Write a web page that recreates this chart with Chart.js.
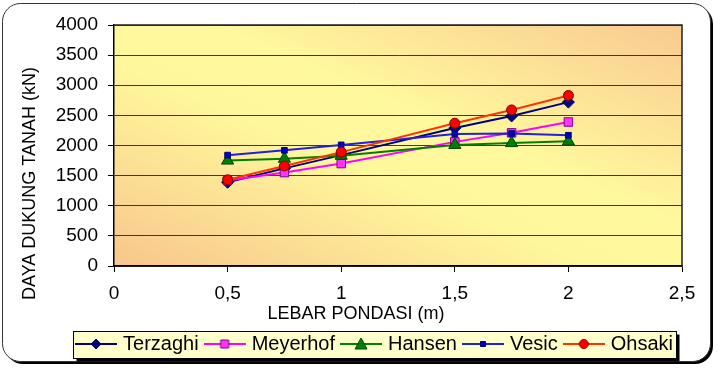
<!DOCTYPE html>
<html><head><meta charset="utf-8">
<script src="https://cdn.jsdelivr.net/npm/chart.js@4.4.0/dist/chart.umd.min.js"></script>
<style>html,body{margin:0;padding:0;background:#fff;}#wrap{width:724px;height:368px;}</style>
</head><body><div id="wrap"><canvas id="c" width="724" height="368"></canvas></div>
<script>
// ---- data ----
const xValues = [0.5, 0.75, 1, 1.5, 1.75, 2];
const terzaghi = [1390, 1620, 1840, 2290, 2490, 2720];
const meyerhof = [1420, 1550, 1700, 2060, 2210, 2390];
const hansen   = [1750, 1780, 1830, 2010, 2040, 2070];
const vesic    = [1840, 1920, 2010, 2190, 2200, 2170];
const ohsaki   = [1430, 1660, 1890, 2370, 2590, 2830];
const seriesNames = ['Terzaghi', 'Meyerhof', 'Hansen', 'Vesic', 'Ohsaki'];
const xTickLabels = ['0', '0,5', '1', '1,5', '2', '2,5'];
const yTickLabels = ['0', '500', '1000', '1500', '2000', '2500', '3000', '3500', '4000'];
const yTitle = 'DAYA DUKUNG TANAH (kN)';
const xTitle = 'LEBAR PONDASI (m)';

// ---- styles ----
const seriesValues = [terzaghi, meyerhof, hansen, vesic, ohsaki];
const styles = [
  {line:'#000080', fill:'#000080', border:'#000060', shape:'rectRot', r:6, lg:'diamond'},
  {line:'#FF00FF', fill:'#FF33FF', border:'#800080', shape:'rect', r:6, lg:'square'},
  {line:'#008000', fill:'#008000', border:'#004000', shape:'triangle', r:7, lg:'triangle'},
  {line:'#2020E0', fill:'#0000C0', border:'#000080', shape:'rect', r:4, lg:'small'},
  {line:'#FF3300', fill:'#FF0000', border:'#800000', shape:'circle', r:5, lg:'circle'}
];

function makeIcon(st){
  const c = document.createElement('canvas');
  c.width = 42; c.height = 16;
  const g = c.getContext('2d');
  g.strokeStyle = st.line; g.lineWidth = 2;
  g.beginPath(); g.moveTo(0, 8); g.lineTo(42, 8); g.stroke();
  g.fillStyle = st.fill; g.strokeStyle = st.border; g.lineWidth = 1;
  g.beginPath();
  const cx = 21, cy = 8;
  if (st.lg === 'diamond'){ g.moveTo(cx-5,cy); g.lineTo(cx,cy-5); g.lineTo(cx+5,cy); g.lineTo(cx,cy+5); g.closePath(); }
  else if (st.lg === 'square'){ g.rect(cx-4,cy-4,8,8); }
  else if (st.lg === 'triangle'){ g.moveTo(cx-6,cy+5); g.lineTo(cx,cy-6); g.lineTo(cx+6,cy+5); g.closePath(); }
  else if (st.lg === 'small'){ g.rect(cx-2.5,cy-2.5,5,5); }
  else { g.arc(cx,cy,4.5,0,Math.PI*2); }
  g.fill(); g.stroke();
  return c;
}
const legendIcons = styles.map(makeIcon);

const datasets = seriesNames.map((name, i) => ({
  label: name,
  data: xValues.map((x, j) => ({x: x, y: seriesValues[i][j]})),
  borderColor: styles[i].line,
  backgroundColor: styles[i].fill,
  pointBackgroundColor: styles[i].fill,
  pointBorderColor: styles[i].border,
  pointBorderWidth: 1,
  pointStyle: styles[i].shape,
  pointRadius: styles[i].r,
  borderWidth: 2,
  tension: 0,
  order: 5 - i
}));

function roundRect(ctx, x, y, w, h, r){
  ctx.beginPath();
  ctx.moveTo(x+r, y); ctx.lineTo(x+w-r, y); ctx.arcTo(x+w, y, x+w, y+r, r);
  ctx.lineTo(x+w, y+h-r); ctx.arcTo(x+w, y+h, x+w-r, y+h, r);
  ctx.lineTo(x+r, y+h); ctx.arcTo(x, y+h, x, y+h-r, r);
  ctx.lineTo(x, y+r); ctx.arcTo(x, y, x+r, y, r); ctx.closePath();
}

const decorPlugin = {
  id: 'decor',
  afterLayout(chart){
    const sx = chart.scales.x, sy = chart.scales.y;
    if (sx && !sx._shifted){
      const o = sx.drawTitle;
      sx.drawTitle = function(){ const c = this.ctx; c.save(); c.translate(-42, 0); o.apply(this, arguments); c.restore(); };
      sx._shifted = true;
    }
    if (sy && !sy._shifted){
      const o = sy.drawTitle;
      sy.drawTitle = function(){ const c = this.ctx; c.save(); c.translate(0, 38); o.apply(this, arguments); c.restore(); };
      sy._shifted = true;
    }
  },
  beforeDraw(chart){
    const ctx = chart.ctx, a = chart.chartArea;
    ctx.save();
    ctx.fillStyle = '#fff'; ctx.fillRect(0, 0, chart.width, chart.height);
    roundRect(ctx, 5, 6, 708, 358, 18); ctx.fillStyle = '#000'; ctx.fill();
    roundRect(ctx, 2.5, 3.5, 708, 358, 18); ctx.fillStyle = '#fff'; ctx.fill();
    ctx.strokeStyle = '#333'; ctx.lineWidth = 1; ctx.stroke();
    // plot background gradient
    const cx = (a.left + a.right)/2, cy = (a.top + a.bottom)/2;
    const w = a.right - a.left, h = a.bottom - a.top;
    const nx = h, ny = -w, nl = Math.hypot(nx, ny);
    const ux = nx/nl, uy = ny/nl;
    const half = Math.abs((-w/2)*ux + (h/2)*uy);
    const grad = ctx.createLinearGradient(cx - ux*half, cy - uy*half, cx + ux*half, cy + uy*half);
    grad.addColorStop(0, '#F8C68C');
    grad.addColorStop(0.42, '#FFF79C');
    grad.addColorStop(0.58, '#FFF99E');
    grad.addColorStop(1, '#F9CA90');
    ctx.fillStyle = grad;
    ctx.fillRect(a.left, a.top, w, h);
    // legend box
    const lg = chart.legend, hb = lg && lg.legendHitBoxes;
    if (hb && hb.length){
      const l = Math.round(hb[0].left - 6) + 0.5;
      const last = hb[hb.length-1];
      const r = Math.round(last.left + last.width + 3) + 0.5;
      const my = hb[0].top + hb[0].height/2;
      const t = Math.round(my - 13.5) + 0.5, b = Math.round(my + 13.5) + 0.5;
      ctx.fillStyle = '#000'; ctx.fillRect(l + 3, t + 3, r - l, b - t);
      ctx.fillStyle = '#FFFFCC'; ctx.fillRect(l, t, r - l, b - t);
      ctx.strokeStyle = '#000'; ctx.lineWidth = 1; ctx.strokeRect(l, t, r - l, b - t);
    }
    ctx.restore();
  },
  beforeDatasetsDraw(chart){
    const ctx = chart.ctx, a = chart.chartArea;
    ctx.save();
    ctx.strokeStyle = '#222'; ctx.lineWidth = 1.5;
    ctx.beginPath();
    ctx.moveTo(a.left, a.top); ctx.lineTo(a.right, a.top); ctx.lineTo(a.right, a.bottom);
    ctx.stroke();
    ctx.restore();
  }
};

Chart.defaults.font.family = "'Liberation Sans', Arial, sans-serif";
Chart.defaults.color = '#000';

new Chart(document.getElementById('c'), {
  type: 'line',
  data: { datasets: datasets },
  plugins: [decorPlugin],
  options: {
    responsive: false,
    animation: false,
    devicePixelRatio: 1,
    layout: { padding: { left: 10, right: 42, top: 25, bottom: 4 } },
    plugins: {
      tooltip: { enabled: false },
      legend: {
        position: 'bottom',
        align: 'end',
        labels: {
          usePointStyle: true,
          pointStyleWidth: 34,
          padding: 9,
          color: '#000',
          font: { size: 20 },
          sort: (a, b) => a.datasetIndex - b.datasetIndex,
          generateLabels(chart){
            const items = Chart.defaults.plugins.legend.labels.generateLabels(chart);
            items.forEach(it => { it.pointStyle = legendIcons[it.datasetIndex]; });
            return items;
          }
        }
      }
    },
    scales: {
      x: {
        type: 'linear', min: 0, max: 2.5,
        afterFit(s){ s.height = 59; },
        ticks: { stepSize: 0.5, padding: 10, font: { size: 19 }, color: '#000',
                 callback: (v, i) => xTickLabels[i] },
        grid: { drawOnChartArea: false, tickLength: 6, color: '#000', lineWidth: 1 },
        border: { color: '#000', width: 1.5 },
        title: { display: true, text: xTitle, font: { size: 18 }, color: '#000', padding: { top: 2, bottom: 0 } }
      },
      y: {
        min: 0, max: 4000,
        afterFit(s){ s.width = 104; },
        ticks: { stepSize: 500, padding: 10, font: { size: 19 }, color: '#000',
                 callback: (v, i) => yTickLabels[i] },
        grid: { color: '#3a3a2a', lineWidth: 1, tickLength: 6, tickColor: '#000' },
        border: { color: '#000', width: 1.5 },
        title: { display: true, text: yTitle, font: { size: 18 }, color: '#000', padding: { top: 9, bottom: 0 } }
      }
    }
  }
});
</script>
</body></html>
